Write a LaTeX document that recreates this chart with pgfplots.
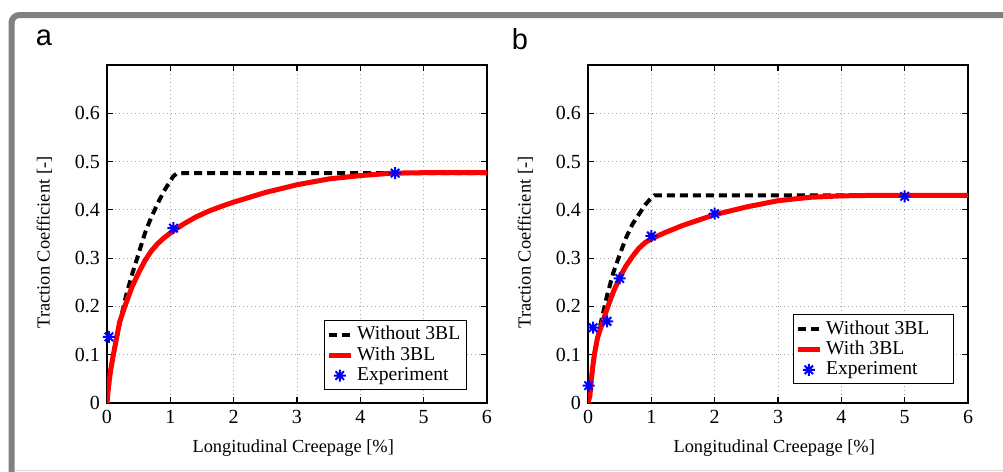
\documentclass[border=0pt]{standalone}
\usepackage{fontspec}
\setmainfont{Liberation Serif}
\newfontfamily\lsans{Liberation Sans}
\usepackage{pgfplots}
\pgfplotsset{compat=1.18}

% MATLAB-like 8-armed asterisk
\pgfdeclareplotmark{star8}{%
  \pgfpathmoveto{\pgfqpoint{0pt}{\pgfplotmarksize}}\pgfpathlineto{\pgfqpoint{0pt}{-\pgfplotmarksize}}%
  \pgfpathmoveto{\pgfqpoint{\pgfplotmarksize}{0pt}}\pgfpathlineto{\pgfqpoint{-\pgfplotmarksize}{0pt}}%
  \pgfpathmoveto{\pgfqpoint{0.7071\pgfplotmarksize}{0.7071\pgfplotmarksize}}\pgfpathlineto{\pgfqpoint{-0.7071\pgfplotmarksize}{-0.7071\pgfplotmarksize}}%
  \pgfpathmoveto{\pgfqpoint{0.7071\pgfplotmarksize}{-0.7071\pgfplotmarksize}}\pgfpathlineto{\pgfqpoint{-0.7071\pgfplotmarksize}{0.7071\pgfplotmarksize}}%
  \pgfusepathqstroke}

\pgfplotsset{
  mat/.style={
    scale only axis, width=190pt, height=169pt,
    xmin=0, xmax=6, ymin=0, ymax=0.7,
    xtick={0,1,2,3,4,5,6}, ytick={0,0.1,0.2,0.3,0.4,0.5,0.6},
    yticklabel style={/pgf/number format/fixed, /pgf/number format/precision=1},
    grid=major,
    grid style={gray!70, line width=0.4pt, dash pattern=on 0.6pt off 1.4pt},
    tick align=inside, major tick length=3pt,
    tick style={black, line width=0.6pt},
    axis line style={line width=0.8pt},
    tick label style={font=\fontsize{10}{11}\selectfont},
    /pgf/number format/assume math mode=true,
    label style={font=\fontsize{9.2}{10}\selectfont},
    xlabel={Longitudinal Creepage [\%]},
    ylabel={Traction Coefficient [-]},
    xlabel style={at={(axis description cs:0.49,-0.133)}, anchor=center},
    ylabel style={at={(axis description cs:-0.165,0.475)}, anchor=center},
    legend cell align=left,
    legend style={draw=black, line width=0.6pt, font=\fontsize{9.8}{10}\selectfont,
      inner sep=1pt, row sep=-2pt},
    legend image code/.code={\draw[mark repeat=2,mark phase=2,#1] plot coordinates {(0cm,0cm) (0.19cm,0cm) (0.38cm,0cm)};},
  },
  wo/.style={black, line width=2pt, dash pattern=on 4pt off 2.5pt},
  wi/.style={red, line width=2.5pt},
  ex/.style={only marks, blue, mark=star8, mark size=3pt, line width=1pt},
}

\begin{document}
\begin{tikzpicture}
\path[use as bounding box] (0,0) rectangle (501.5pt,-236pt);
% frame
\draw[color={rgb,255:red,128;green,128;blue,128}, line width=3pt, rounded corners=4pt]
  (5.75pt,-236pt) -- (5.75pt,-7.5pt) -- (510pt,-7.5pt);
\draw[black!15, line width=0.5pt] (7.25pt,-235.2pt) -- (501.5pt,-235.2pt);
\node[font=\lsans\fontsize{14.5}{16}\selectfont] at (22pt,-19pt) {a};
\node[font=\lsans\fontsize{14.5}{16}\selectfont] at (260pt,-19.5pt) {b};

% panel a
\begin{axis}[mat, at={(53.5pt,-201.5pt)}, anchor=south west,
  legend style={at={(0.947,0.038)}, anchor=south east}]
\addplot[wo] coordinates {
 (0,0) (0.05,0.06) (0.1,0.1) (0.2,0.165) (0.3,0.222) (0.4,0.268) (0.5,0.31) (0.6,0.352)
 (0.7,0.385) (0.8,0.413) (0.9,0.439) (1.0,0.46) (1.05,0.47) (1.1,0.475) (1.2,0.476) (6,0.476)};
\addlegendentry{Without 3BL}
\addplot[wi] coordinates {
 (0,0) (0.02,0.03) (0.05,0.062) (0.1,0.1) (0.2,0.168) (0.3,0.207) (0.4,0.242) (0.5,0.27)
 (0.6,0.295) (0.7,0.315) (0.8,0.33) (0.9,0.342) (1.0,0.352) (1.05,0.357) (1.2,0.37)
 (1.4,0.385) (1.6,0.397) (1.8,0.407) (2.0,0.416) (2.5,0.436) (3.0,0.452) (3.5,0.464)
 (4.0,0.471) (4.5,0.476) (5.0,0.477) (6,0.477)};
\addlegendentry{With 3BL}
\addplot[ex] coordinates {(0.03,0.137) (1.05,0.362) (4.55,0.476)};
\addlegendentry{Experiment}
\end{axis}

% panel b
\begin{axis}[mat, at={(294pt,-201.5pt)}, anchor=south west,
  legend style={at={(0.963,0.055)}, anchor=south east}]
\addplot[wo] coordinates {
 (0,0) (0.05,0.05) (0.1,0.1) (0.2,0.165) (0.3,0.222) (0.4,0.27) (0.5,0.307) (0.6,0.342)
 (0.7,0.37) (0.8,0.39) (0.9,0.41) (1.0,0.425) (1.05,0.43) (6,0.43)};
\addlegendentry{Without 3BL\hspace*{9pt}}
\addplot[wi] coordinates {
 (0,0) (0.03,0.015) (0.05,0.045) (0.075,0.075) (0.1,0.1) (0.15,0.135) (0.2,0.155)
 (0.3,0.195) (0.4,0.23) (0.5,0.26) (0.6,0.284) (0.7,0.303) (0.8,0.32) (0.9,0.332)
 (1.0,0.34) (1.2,0.352) (1.5,0.368) (2.0,0.39) (2.5,0.406) (3.0,0.419) (3.5,0.426)
 (4.0,0.429) (4.5,0.43) (6,0.43)};
\addlegendentry{With 3BL}
\addplot[ex] coordinates {(0.01,0.036) (0.08,0.156) (0.3,0.169) (0.5,0.258) (1.0,0.346) (2.0,0.392) (5.0,0.428)};
\addlegendentry{Experiment}
\end{axis}
\end{tikzpicture}
\end{document}
